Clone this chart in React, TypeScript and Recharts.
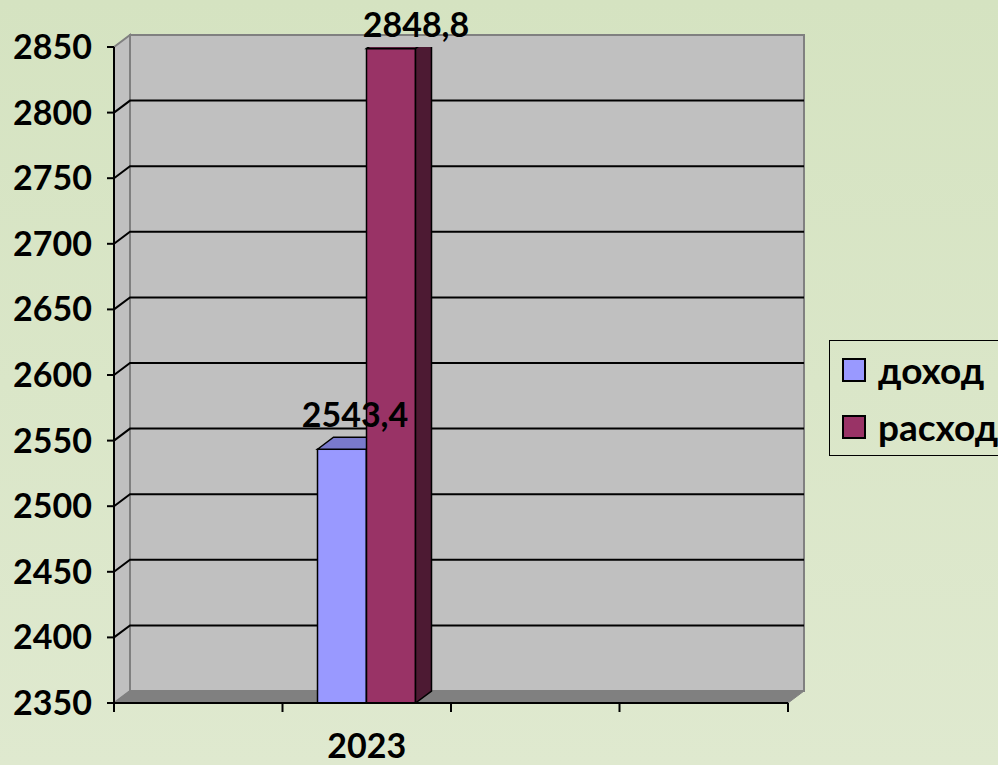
import React from 'react';
import { BarChart, Bar, XAxis, YAxis, CartesianGrid, Legend, LabelList } from 'recharts';

const categories = ['', '2023', '', ''];
const incomeValues: (number | null)[] = [null, 2543.4, null, null];
const expenseValues: (number | null)[] = [null, 2848.8, null, null];
const yTicks = [2350, 2400, 2450, 2500, 2550, 2600, 2650, 2700, 2750, 2800, 2850];
const seriesNames = ['доход', 'расход'];

const data = categories.map((name, i) => ({
  name,
  income: incomeValues[i],
  expense: expenseValues[i],
}));

const FONT = "Lato, 'Open Sans', sans-serif";
const DX = 16; // 3d depth
const DY = 12;
const PLOT_W = 674;
const BAND = PLOT_W / categories.length;

const COLORS = {
  income: { front: '#9999ff', top: '#7a7acc', side: '#4d4d80' },
  expense: { front: '#993366', top: '#7a2952', side: '#4d1a33' },
};

// walls + back grid lines, drawn from the grid so they sit behind the bars
const GridLine = (props: any) => {
  const { x1, x2, y1, index } = props;
  const top = props.y ?? 47;
  const bottom = top + (props.height ?? 656);
  const isEdge = Math.abs(y1 - top) < 1 || Math.abs(y1 - bottom) < 1;
  return (
    <g key={`gl-${index}`}>
      {index === 0 && (
        <g>
          <rect x={x1 + DX} y={top - DY} width={x2 - x1} height={bottom - top} fill="#c0c0c0" stroke="#808080" strokeWidth={2} />
          <polygon
            points={`${x1},${top} ${x1 + DX},${top - DY} ${x1 + DX},${bottom - DY} ${x1},${bottom}`}
            fill="#c0c0c0" stroke="#808080" strokeWidth={2}
          />
          <polygon
            points={`${x1},${bottom} ${x1 + DX},${bottom - DY} ${x2 + DX},${bottom - DY} ${x2},${bottom}`}
            fill="#808080" stroke="#808080" strokeWidth={1}
          />
        </g>
      )}
      {!isEdge && (
        <polyline
          points={`${x1},${y1} ${x1 + DX},${y1 - DY} ${x2 + DX},${y1 - DY}`}
          fill="none" stroke="#000" strokeWidth={2}
        />
      )}
    </g>
  );
};

const makeBox = (c: { front: string; top: string; side: string }) => (props: any) => {
  const { x, y, width: w, height: h } = props;
  if (x == null || !h) return null;
  return (
    <g>
      <rect x={x} y={y} width={w} height={h} fill={c.front} stroke="#000" strokeWidth={1.5} />
      <polygon points={`${x},${y} ${x + DX},${y - DY} ${x + w + DX},${y - DY} ${x + w},${y}`} fill={c.top} stroke="#000" strokeWidth={1.5} />
      <polygon points={`${x + w},${y} ${x + w + DX},${y - DY} ${x + w + DX},${y + h - DY} ${x + w},${y + h}`} fill={c.side} stroke="#000" strokeWidth={1.5} />
    </g>
  );
};

const makeLabel = (offX: number, offY: number) => (props: any) => {
  const { x, y, width, value } = props;
  if (value == null) return null;
  return (
    <text x={x + width / 2 + offX} y={y + offY} textAnchor="middle" fill="#000" fontSize={34} fontWeight={700} fontFamily={FONT}>
      {String(value).replace('.', ',')}
    </text>
  );
};

const XTick = (props: any) => {
  const { x, y, payload, index } = props;
  const last = index === categories.length - 1;
  return (
    <g>
      <line x1={x - BAND / 2} y1={y} x2={x - BAND / 2} y2={y + 9} stroke="#000" strokeWidth={2} />
      {last && <line x1={x + BAND / 2} y1={y} x2={x + BAND / 2} y2={y + 9} stroke="#000" strokeWidth={2} />}
      <text x={x} y={y + 55} textAnchor="middle" fill="#000" fontSize={34} fontWeight={700} fontFamily={FONT}>
        {payload.value}
      </text>
    </g>
  );
};

const LegendBox = () => (
  <div style={{ width: 260, height: 116, border: '1.5px solid #000', boxSizing: 'border-box', position: 'relative' }}>
    {seriesNames.map((name, i) => (
      <div key={name} style={{ position: 'absolute', left: 12, top: 16 + i * 57, height: 26, display: 'flex', alignItems: 'center', whiteSpace: 'nowrap' }}>
        <div style={{ width: 24, height: 24, border: '2px solid #000', boxSizing: 'border-box', background: i === 0 ? COLORS.income.front : COLORS.expense.front }} />
        <span style={{ marginLeft: 12, fontFamily: FONT, fontWeight: 700, fontSize: 37, color: '#000', lineHeight: '26px' }}>{name}</span>
      </div>
    ))}
  </div>
);

export default function App() {
  return (
    <div style={{ width: 998, height: 765, overflow: 'hidden', position: 'relative', background: 'linear-gradient(#d5e3c1, #dfe9cf)', fontFamily: FONT }}>
      <style>{`body{margin:0}`}</style>
      <BarChart width={998} height={765} data={data} margin={{ top: 47, right: 210, bottom: 0, left: 0 }} barSize={49} barGap={0}>
        <CartesianGrid vertical={false} horizontal={GridLine} />
        <XAxis
          dataKey="name"
          height={62}
          interval={0}
          tickSize={0}
          tickMargin={0}
          tickLine={false}
          axisLine={{ stroke: '#000', strokeWidth: 2 }}
          tick={XTick}
        />
        <YAxis
          domain={[2350, 2850]}
          ticks={yTicks}
          interval={0}
          allowDataOverflow
          width={114}
          tickSize={7}
          tickMargin={15}
          axisLine={{ stroke: '#000', strokeWidth: 2 }}
          tickLine={{ stroke: '#000', strokeWidth: 2 }}
          tick={{ fill: '#000', fontSize: 34, fontWeight: 700, fontFamily: FONT }}
        />
        <Legend
          content={LegendBox}
          layout="horizontal"
          verticalAlign="middle"
          align="center"
          wrapperStyle={{ left: 829, top: 340, width: 260 }}
        />
        <Bar dataKey="income" name={seriesNames[0]} fill={COLORS.income.front} shape={makeBox(COLORS.income)} isAnimationActive={false}>
          <LabelList dataKey="income" content={makeLabel(13, -22)} />
        </Bar>
        <Bar dataKey="expense" name={seriesNames[1]} fill={COLORS.expense.front} shape={makeBox(COLORS.expense)} isAnimationActive={false}>
          <LabelList dataKey="expense" content={makeLabel(25, -12)} />
        </Bar>
      </BarChart>
    </div>
  );
}
